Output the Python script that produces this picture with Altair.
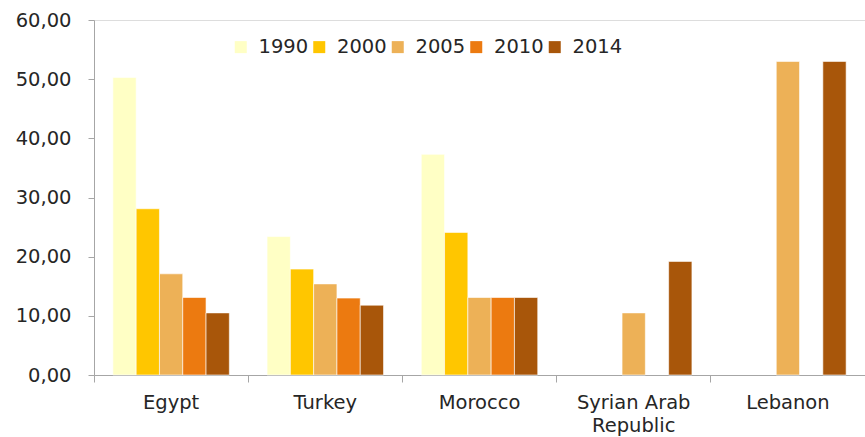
import altair as alt
import pandas as pd

# Categories and series
countries = ["Egypt", "Turkey", "Morocco", "Syrian Arab Republic", "Lebanon"]
years = ["1990", "2000", "2005", "2010", "2014"]

v1990 = [50.3, 23.4, 37.3, None, None]
v2000 = [28.1, 17.9, 24.1, None, None]
v2005 = [17.1, 15.4, 13.1, 10.5, 53.0]
v2010 = [13.1, 13.0, 13.1, None, None]
v2014 = [10.5, 11.8, 13.1, 19.2, 53.0]

colors = ["#FFFFC5", "#FFC600", "#EDB157", "#EC7A10", "#A8560A"]
y_ticks = [0, 10, 20, 30, 40, 50, 60]

series = dict(zip(years, [v1990, v2000, v2005, v2010, v2014]))
rows = [
    {"country": c, "year": y, "value": v}
    for y, vals in series.items()
    for c, v in zip(countries, vals)
    if v is not None
]
df = pd.DataFrame(rows)

FONT = "DejaVu Sans"
FS = 19.5
AXIS_GRAY = "#A6A6A6"
TEXT = "#262626"

y_enc = alt.Y(
    "value:Q",
    scale=alt.Scale(domain=[0, 60], nice=False),
    axis=alt.Axis(
        title=None,
        values=y_ticks,
        grid=False,
        domainColor=AXIS_GRAY,
        tickColor=AXIS_GRAY,
        tickSize=6,
        labelPadding=17,
        labelFontSize=FS,
        labelFont=FONT,
        labelColor=TEXT,
        labelExpr="replace(format(datum.value, '.2f'), '.', ',')",
    ),
)

x_scale = alt.Scale(domain=countries, paddingInner=0, paddingOuter=0)

bars = alt.Chart(df).mark_bar(stroke="#ffffff", strokeWidth=0.6).encode(
    x=alt.X(
        "country:N",
        sort=countries,
        scale=x_scale,
        axis=alt.Axis(
            title=None,
            orient="bottom",
            labelAngle=0,
            ticks=False,
            tickSize=0,
            domainColor=AXIS_GRAY,
            labelPadding=18,
            labelFontSize=FS,
            labelFont=FONT,
            labelColor=TEXT,
            labelLineHeight=23,
            labelExpr="datum.value == 'Syrian Arab Republic' ? ['Syrian Arab', 'Republic'] : datum.value",
        ),
    ),
    xOffset=alt.XOffset(
        "year:N",
        sort=years,
        scale=alt.Scale(domain=years, paddingInner=0, paddingOuter=0.81),
    ),
    y=y_enc,
    color=alt.Color(
        "year:N",
        sort=years,
        scale=alt.Scale(domain=years, range=colors),
        legend=alt.Legend(
            title=None,
            orient="none",
            legendX=137,
            legendY=17,
            padding=0,
            direction="horizontal",
            columns=5,
            columnPadding=0.5,
            symbolType="square",
            symbolSize=144,
            symbolStrokeWidth=0,
            labelOffset=8,
            labelFontSize=FS,
            labelFont=FONT,
            labelColor=TEXT,
        ),
    ),
)

# Category boundary ticks on the x axis
boundaries = alt.Chart(df).mark_bar(opacity=0).encode(
    x=alt.X(
        "country:N",
        sort=countries,
        scale=x_scale,
        axis=alt.Axis(
            title=None,
            orient="bottom",
            bandPosition=0,
            labels=False,
            domain=False,
            ticks=True,
            tickSize=7,
            tickColor=AXIS_GRAY,
        ),
    ),
    y=y_enc,
)

chart = (
    alt.layer(bars, boundaries)
    .resolve_axis(x="independent")
    .properties(
        width=771,
        height=355,
        autosize=alt.AutoSizeParams(type="none"),
        padding={"left": 94, "top": 20, "right": 0, "bottom": 62},
    )
    .configure_view(stroke=None)
    .configure(background="white")
)

chart.save("out.html", embed_options={"renderer": "svg", "actions": False})
